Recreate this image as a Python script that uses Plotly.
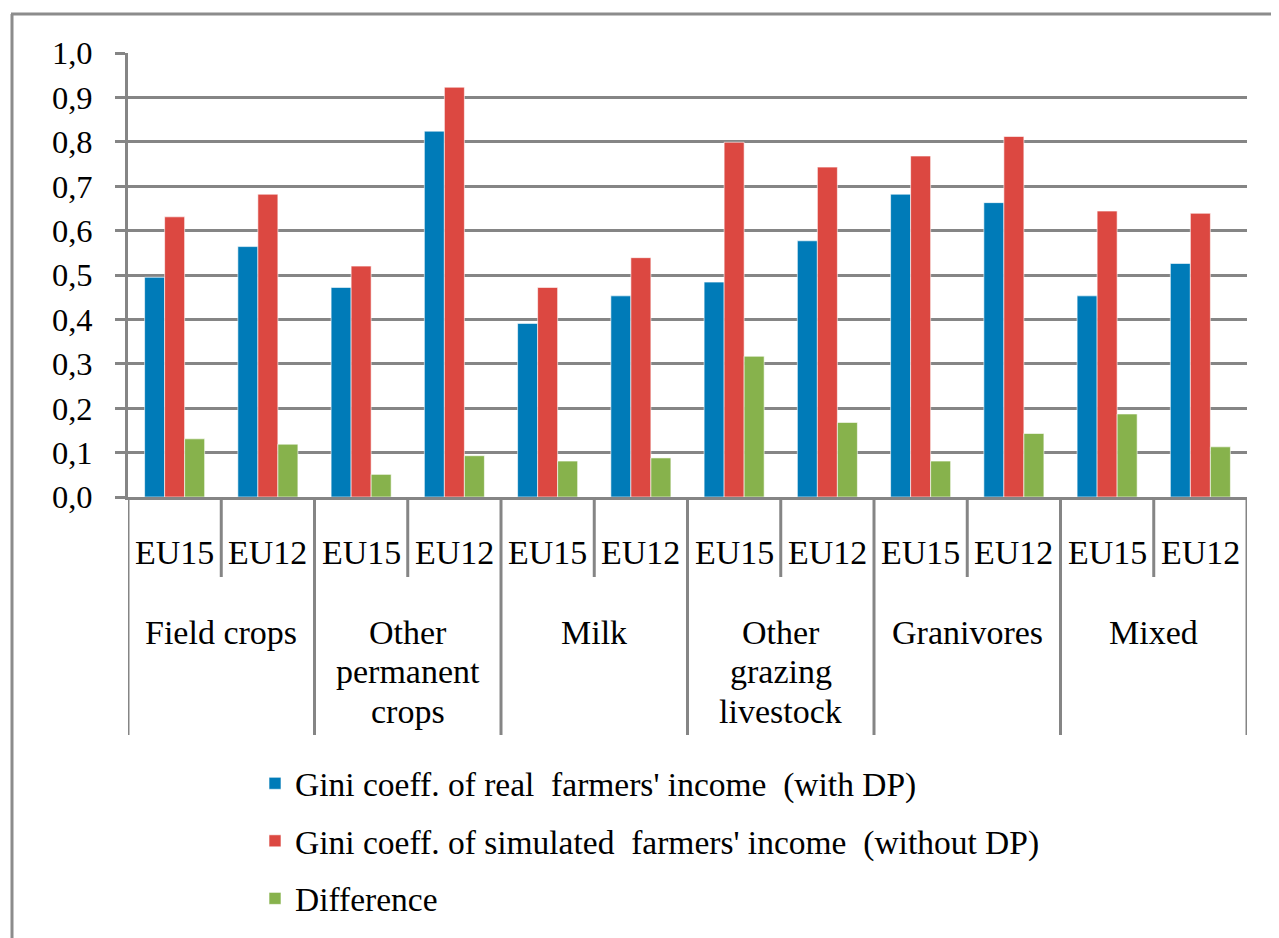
import numpy as np
import plotly.graph_objects as go

groups = ["Field crops", "Other<br>permanent<br>crops", "Milk", "Other<br>grazing<br>livestock", "Granivores", "Mixed"]
subcats = ["EU15", "EU12"]
series_names = [
    "Gini coeff. of real  farmers' income  (with DP)",
    "Gini coeff. of simulated  farmers' income  (without DP)",
    "Difference",
]
real_with_dp = [0.495, 0.564, 0.472, 0.824, 0.391, 0.453, 0.484, 0.577, 0.682, 0.663, 0.453, 0.526]
simulated_without_dp = [0.631, 0.682, 0.520, 0.923, 0.472, 0.539, 0.799, 0.743, 0.768, 0.812, 0.644, 0.639]
difference = [0.131, 0.119, 0.051, 0.093, 0.081, 0.088, 0.317, 0.168, 0.081, 0.143, 0.187, 0.113]
colors = ["#007BB8", "#DC4841", "#87B24C"]
y_ticks = [0.0, 0.1, 0.2, 0.3, 0.4, 0.5, 0.6, 0.7, 0.8, 0.9, 1.0]

OFF = 8  # browser body margin
W, H = 1279 - OFF, 938 - OFF
L, R = 128 - OFF, 1279 - 1247
T = 53 - OFF
B = H - (497 - OFF)
pw, ph = W - L - R, H - T - B
FONT = "Liberation Serif"
GRID = "#858585"

def py(p):  # reference pixel y -> paper y
    return (H - B - (p - OFF)) / ph

def px(p):  # reference pixel x -> paper x
    return ((p - OFF) - L) / pw

n_sub = len(subcats)
labels = [s for g in groups for s in subcats]
xpos = np.arange(len(labels))

fig = go.Figure()
for name, vals, col in zip(series_names, [real_with_dp, simulated_without_dp, difference], colors):
    fig.add_trace(go.Bar(
        x=xpos, y=vals, name=name, legendgroup=name,
        marker=dict(color=col, line=dict(color="rgba(255,255,255,0.6)", width=1)),
    ))

shapes = []
for k in range(len(labels) + 1):
    xb = k - 0.5
    y_end = py(735) if k % n_sub == 0 else py(577)
    shapes.append(dict(type="line", xref="x", yref="paper", x0=xb, x1=xb, y0=0, y1=y_end,
                       line=dict(color=GRID, width=3)))
shapes.append(dict(type="line", xref="paper", yref="paper", x0=px(12), x1=px(12), y0=py(14), y1=py(960),
                   line=dict(color="#8C8C8C", width=3)))
shapes.append(dict(type="line", xref="paper", yref="paper", x0=px(11), x1=px(1300), y0=py(14), y1=py(14),
                   line=dict(color="#8C8C8C", width=3)))

annotations = []
for i, lab in enumerate(labels):
    annotations.append(dict(x=i, y=py(552), xref="x", yref="paper", text=lab, showarrow=False,
                            xanchor="center", yanchor="middle", font=dict(size=34, family=FONT, color="black")))
for gi, g in enumerate(groups):
    xc = gi * n_sub + (n_sub - 1) / 2
    for li, line in enumerate(g.split("<br>")):
        annotations.append(dict(x=xc, y=py(632 + 39.5 * li), xref="x", yref="paper", text=line, showarrow=False,
                                xanchor="center", yanchor="middle", font=dict(size=34, family=FONT, color="black")))

fig.update_layout(
    width=W, height=H,
    margin=dict(l=L, r=R, t=T, b=B, pad=0, autoexpand=False),
    paper_bgcolor="white", plot_bgcolor="white",
    separators=", ",
    barmode="group", bargap=0.356, bargroupgap=0,
    font=dict(family=FONT, size=32, color="black"),
    shapes=shapes, annotations=annotations,
    legend=dict(x=px(255), y=py(755), xanchor="left", yanchor="top",
                font=dict(size=33.5, family=FONT, color="black"),
                tracegroupgap=11, traceorder="grouped", bgcolor="rgba(0,0,0,0)"),
    showlegend=True,
)
fig.update_xaxes(range=[-0.5, len(labels) - 0.5], showticklabels=False, showgrid=False, zeroline=False,
                 showline=True, linecolor=GRID, linewidth=3, ticks="", automargin=False)
fig.update_yaxes(range=[0, 1.0], tickvals=y_ticks, tickformat=".1f", showgrid=True, gridcolor=GRID, gridwidth=3,
                 zeroline=False, showline=True, linecolor=GRID, linewidth=3,
                 ticks="outside", ticklen=10, tickwidth=3, tickcolor=GRID, automargin=False,
                 tickfont=dict(size=32.5, family=FONT, color="black"), ticklabelstandoff=16)

fig.write_html("out.html")
